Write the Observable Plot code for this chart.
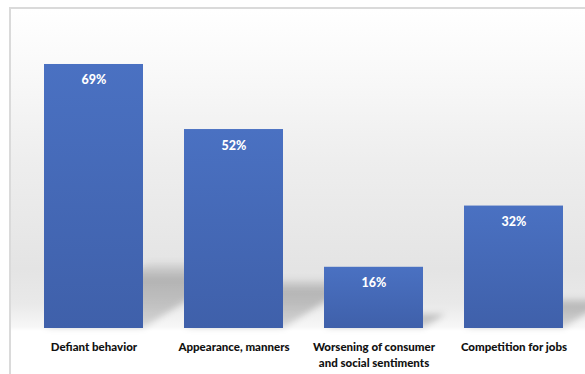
<!DOCTYPE html>
<html>
<head>
<meta charset="utf-8">
<script src="https://cdn.jsdelivr.net/npm/d3@7"></script>
<script src="https://cdn.jsdelivr.net/npm/@observablehq/plot@0.6"></script>
<style>
  html, body { margin: 0; padding: 0; background: #fff; }
  #wrap {
    position: absolute; left: 9px; top: 7px;
    border-top: 2px solid #dadada; border-left: 2px solid #dadada;
    width: 574px; height: 365px; overflow: hidden;
  }
</style>
</head>
<body>
<div id="wrap"></div>
<script>
const categories = [
  "Defiant behavior",
  "Appearance, manners",
  "Worsening of consumer\nand social sentiments",
  "Competition for jobs"
];
const values = [69, 52, 16, 32];
const valueLabels = ["69%", "52%", "16%", "32%"];

const data = categories.map((c, i) => ({category: c, value: values[i], label: valueLabels[i]}));

const defs = () => {
  const d = d3.create("svg:defs");
  const g = d.append("linearGradient").attr("id", "barGrad").attr("x1", 0).attr("y1", 0).attr("x2", 0).attr("y2", 1);
  g.append("stop").attr("offset", "0%").attr("stop-color", "#4a71c2");
  g.append("stop").attr("offset", "100%").attr("stop-color", "#3f60aa");
  const s = d.append("linearGradient").attr("id", "shadowGrad").attr("x1", 0).attr("y1", 0).attr("x2", 0).attr("y2", 1);
  s.append("stop").attr("offset", "0%").attr("stop-color", "#000").attr("stop-opacity", 0.03);
  s.append("stop").attr("offset", "25%").attr("stop-color", "#000").attr("stop-opacity", 0.22);
  s.append("stop").attr("offset", "100%").attr("stop-color", "#000").attr("stop-opacity", 0.13);
  const f = d.append("filter").attr("id", "blur").attr("x", "-20%").attr("y", "-20%").attr("width", "140%").attr("height", "140%");
  f.append("feGaussianBlur").attr("stdDeviation", 3);
  return d.node();
};

const shear = 1.6, squash = 0.25;

const chart = Plot.plot({
  width: 574,
  height: 365,
  marginLeft: 12.5,
  marginRight: 1.5,
  marginTop: 12.9,
  marginBottom: 46,
  style: {
    fontFamily: "Lato, 'Open Sans', sans-serif",
    background: "linear-gradient(to bottom, #ffffff 0px, #f9f9f9 60px, #eeeeee 150px, #e4e4e4 260px, #e9e9e9 295px, #f7f7f7 318px, #ffffff 322px)",
    overflow: "visible"
  },
  x: {domain: categories, paddingInner: 0.293, paddingOuter: 0.1465, label: null},
  y: {domain: [0, 80], axis: null},
  marks: [
    defs,
    Plot.barY(data, {
      x: "category", y: "value",
      fill: "url(#shadowGrad)",
      render(index, scales, values, dims, context, next) {
        const g = next(index, scales, values, dims, context);
        const y0 = scales.y(0);
        const c = -shear * squash, e = shear * squash * y0, f = (1 - squash) * y0;
        d3.select(g).attr("filter", "url(#blur)")
          .selectAll("rect")
          .attr("transform", `matrix(1,0,${c},${squash},${e},${f})`);
        return g;
      }
    }),
    Plot.barY(data, {x: "category", y: "value", fill: "url(#barGrad)"}),
    Plot.text(data, {
      x: "category", y: "value", text: "label",
      dy: 16, fill: "white", fontWeight: 900, fontSize: 12.5
    }),
    Plot.axisX({
      tickSize: 0, tickPadding: 11,
      fontSize: 11.5, fontWeight: 900, fill: "#111",
      lineHeight: 1.4
    })
  ]
});
document.getElementById("wrap").appendChild(chart);
</script>
</body>
</html>
